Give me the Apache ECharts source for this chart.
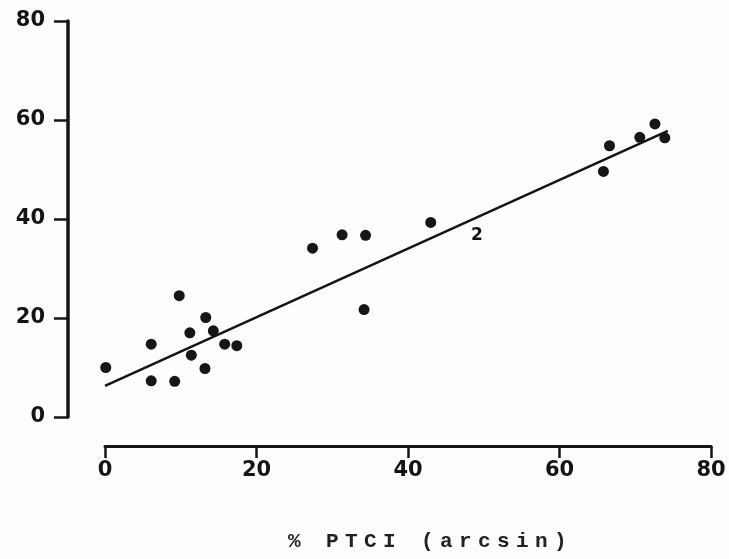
<!DOCTYPE html>
<html>
<head>
<meta charset="utf-8">
<script src="https://cdn.jsdelivr.net/npm/echarts@6/dist/echarts.min.js"></script>
<style>
html,body{margin:0;padding:0;background:#fdfdfc;}
#chart{width:729px;height:559px;}
</style>
</head>
<body>
<div id="chart"></div>
<script>
// Observed points: [% PTCI (arcsin), y value]
const pointsX = [0.1, 6.1, 6.1, 9.2, 9.8, 11.2, 11.4, 13.3, 13.2, 14.3, 15.8, 17.4,
                 27.4, 31.3, 34.4, 34.2, 43.0, 66.6, 65.8, 70.6, 72.6, 73.9];
const pointsY = [10.0, 14.7, 7.3, 7.2, 24.5, 17.0, 12.5, 20.1, 9.8, 17.4, 14.7, 14.4,
                 34.1, 36.8, 36.7, 21.7, 39.3, 54.8, 49.6, 56.5, 59.2, 56.4];
// Regression line end points
const lineX = [0, 74.3];
const lineY = [6.3, 57.8];
// Overlap marker ("2" coincident points)
const overlapX = [49.1];
const overlapY = [36.6];
const overlapText = ['2'];
const xTicks = [0, 20, 40, 60, 80];
const yTicks = [0, 20, 40, 60, 80];
const xTitle = '% PTCI (arcsin)';

const ink = '#141414';
const chart = echarts.init(document.getElementById('chart'));

const titleRich = xTitle.split('').map(c => '{c|' + c + '}').join('');

chart.setOption({
  backgroundColor: '#fdfdfc',
  animation: false,
  grid: {left: 105, right: 18, top: 21, bottom: 142},
  xAxis: {
    type: 'value', min: xTicks[0], max: xTicks[xTicks.length - 1], interval: 20,
    position: 'bottom', offset: 29,
    axisLine: {show: true, onZero: false, lineStyle: {color: ink, width: 3}},
    axisTick: {show: true, length: 12, lineStyle: {color: ink, width: 2.5}},
    axisLabel: {color: ink, fontFamily: 'DejaVu Sans', fontWeight: 'bold', fontSize: 21, margin: 14},
    splitLine: {show: false}
  },
  yAxis: {
    type: 'value', min: yTicks[0], max: yTicks[yTicks.length - 1], interval: 20,
    position: 'left', offset: 37,
    axisLine: {show: true, onZero: false, lineStyle: {color: ink, width: 3.5}},
    axisTick: {show: true, length: 14, lineStyle: {color: ink, width: 2.5}},
    axisLabel: {color: ink, fontFamily: 'DejaVu Sans', fontWeight: 'bold', fontSize: 21, margin: 23},
    splitLine: {show: false}
  },
  graphic: [{
    type: 'text', left: 288, top: 531,
    style: {
      text: titleRich,
      rich: {c: {width: 19, align: 'center', fontFamily: 'Liberation Mono', fontWeight: 'bold', fontSize: 21, fill: '#222'}},
      fill: '#222'
    }
  }],
  series: [
    {
      type: 'line',
      data: lineX.map((x, i) => [x, lineY[i]]),
      symbol: 'none',
      lineStyle: {color: ink, width: 2.5},
      z: 2
    },
    {
      type: 'scatter',
      data: pointsX.map((x, i) => [x, pointsY[i]]),
      symbol: 'circle', symbolSize: 11,
      itemStyle: {color: '#161616', opacity: 1},
      z: 3
    },
    {
      type: 'scatter',
      data: overlapX.map((x, i) => [x, overlapY[i]]),
      symbolSize: 0,
      itemStyle: {opacity: 1},
      label: {show: true, position: 'inside', formatter: p => overlapText[p.dataIndex],
              color: ink, fontFamily: 'DejaVu Sans', fontWeight: 'bold', fontSize: 17},
      z: 4
    }
  ]
});
</script>
</body>
</html>
